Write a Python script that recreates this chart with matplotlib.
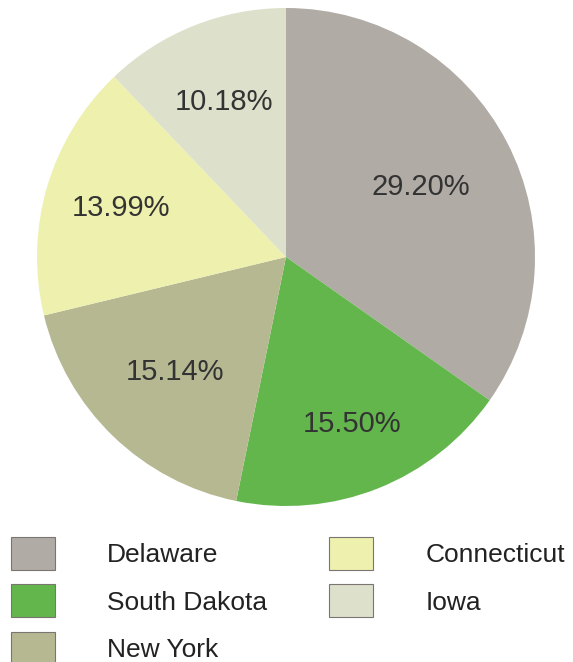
import numpy as np
import matplotlib.pyplot as plt
from matplotlib.patches import Patch

plt.rcParams['font.family'] = ['Liberation Sans', 'DejaVu Sans']

states = ['Delaware', 'South Dakota', 'New York', 'Connecticut', 'Iowa']
shares = [29.20, 15.50, 15.14, 13.99, 10.18]
colors = ['#b0aba5', '#63b64c', '#b6b892', '#eef0ae', '#dde0cb']
# label distance from centre, as fraction of radius
label_dist = [0.61, 0.72, 0.64, 0.69, 0.67]

fig = plt.figure(figsize=(5.73, 6.62), dpi=100)
ax = fig.add_axes([37 / 573, 156 / 662, 498 / 573, 498 / 662])

wedges, texts = ax.pie(shares, colors=colors, startangle=90, counterclock=False,
                       radius=1, wedgeprops=dict(linewidth=0))
for w, v, d in zip(wedges, shares, label_dist):
    ang = np.deg2rad((w.theta1 + w.theta2) / 2)
    ax.text(d * np.cos(ang), d * np.sin(ang), f'{v:.2f}%', ha='center', va='center',
            fontsize=21, color='#333333')
ax.set_xlim(-1, 1)
ax.set_ylim(-1, 1)
ax.set_aspect('equal')

handles = [Patch(facecolor=c, edgecolor='#7a7570', linewidth=0.8) for c in colors]
fig.legend(handles, states, loc='upper left', bbox_to_anchor=(11 / 573, 1 - 537 / 662),
           ncol=2, frameon=False, fontsize=19, handlelength=1.67, handleheight=1.54,
           handletextpad=1.97, columnspacing=2.35, labelspacing=0.55, borderpad=0,
           borderaxespad=0, labelcolor='#222222')

fig.savefig('out.png', dpi=100)
